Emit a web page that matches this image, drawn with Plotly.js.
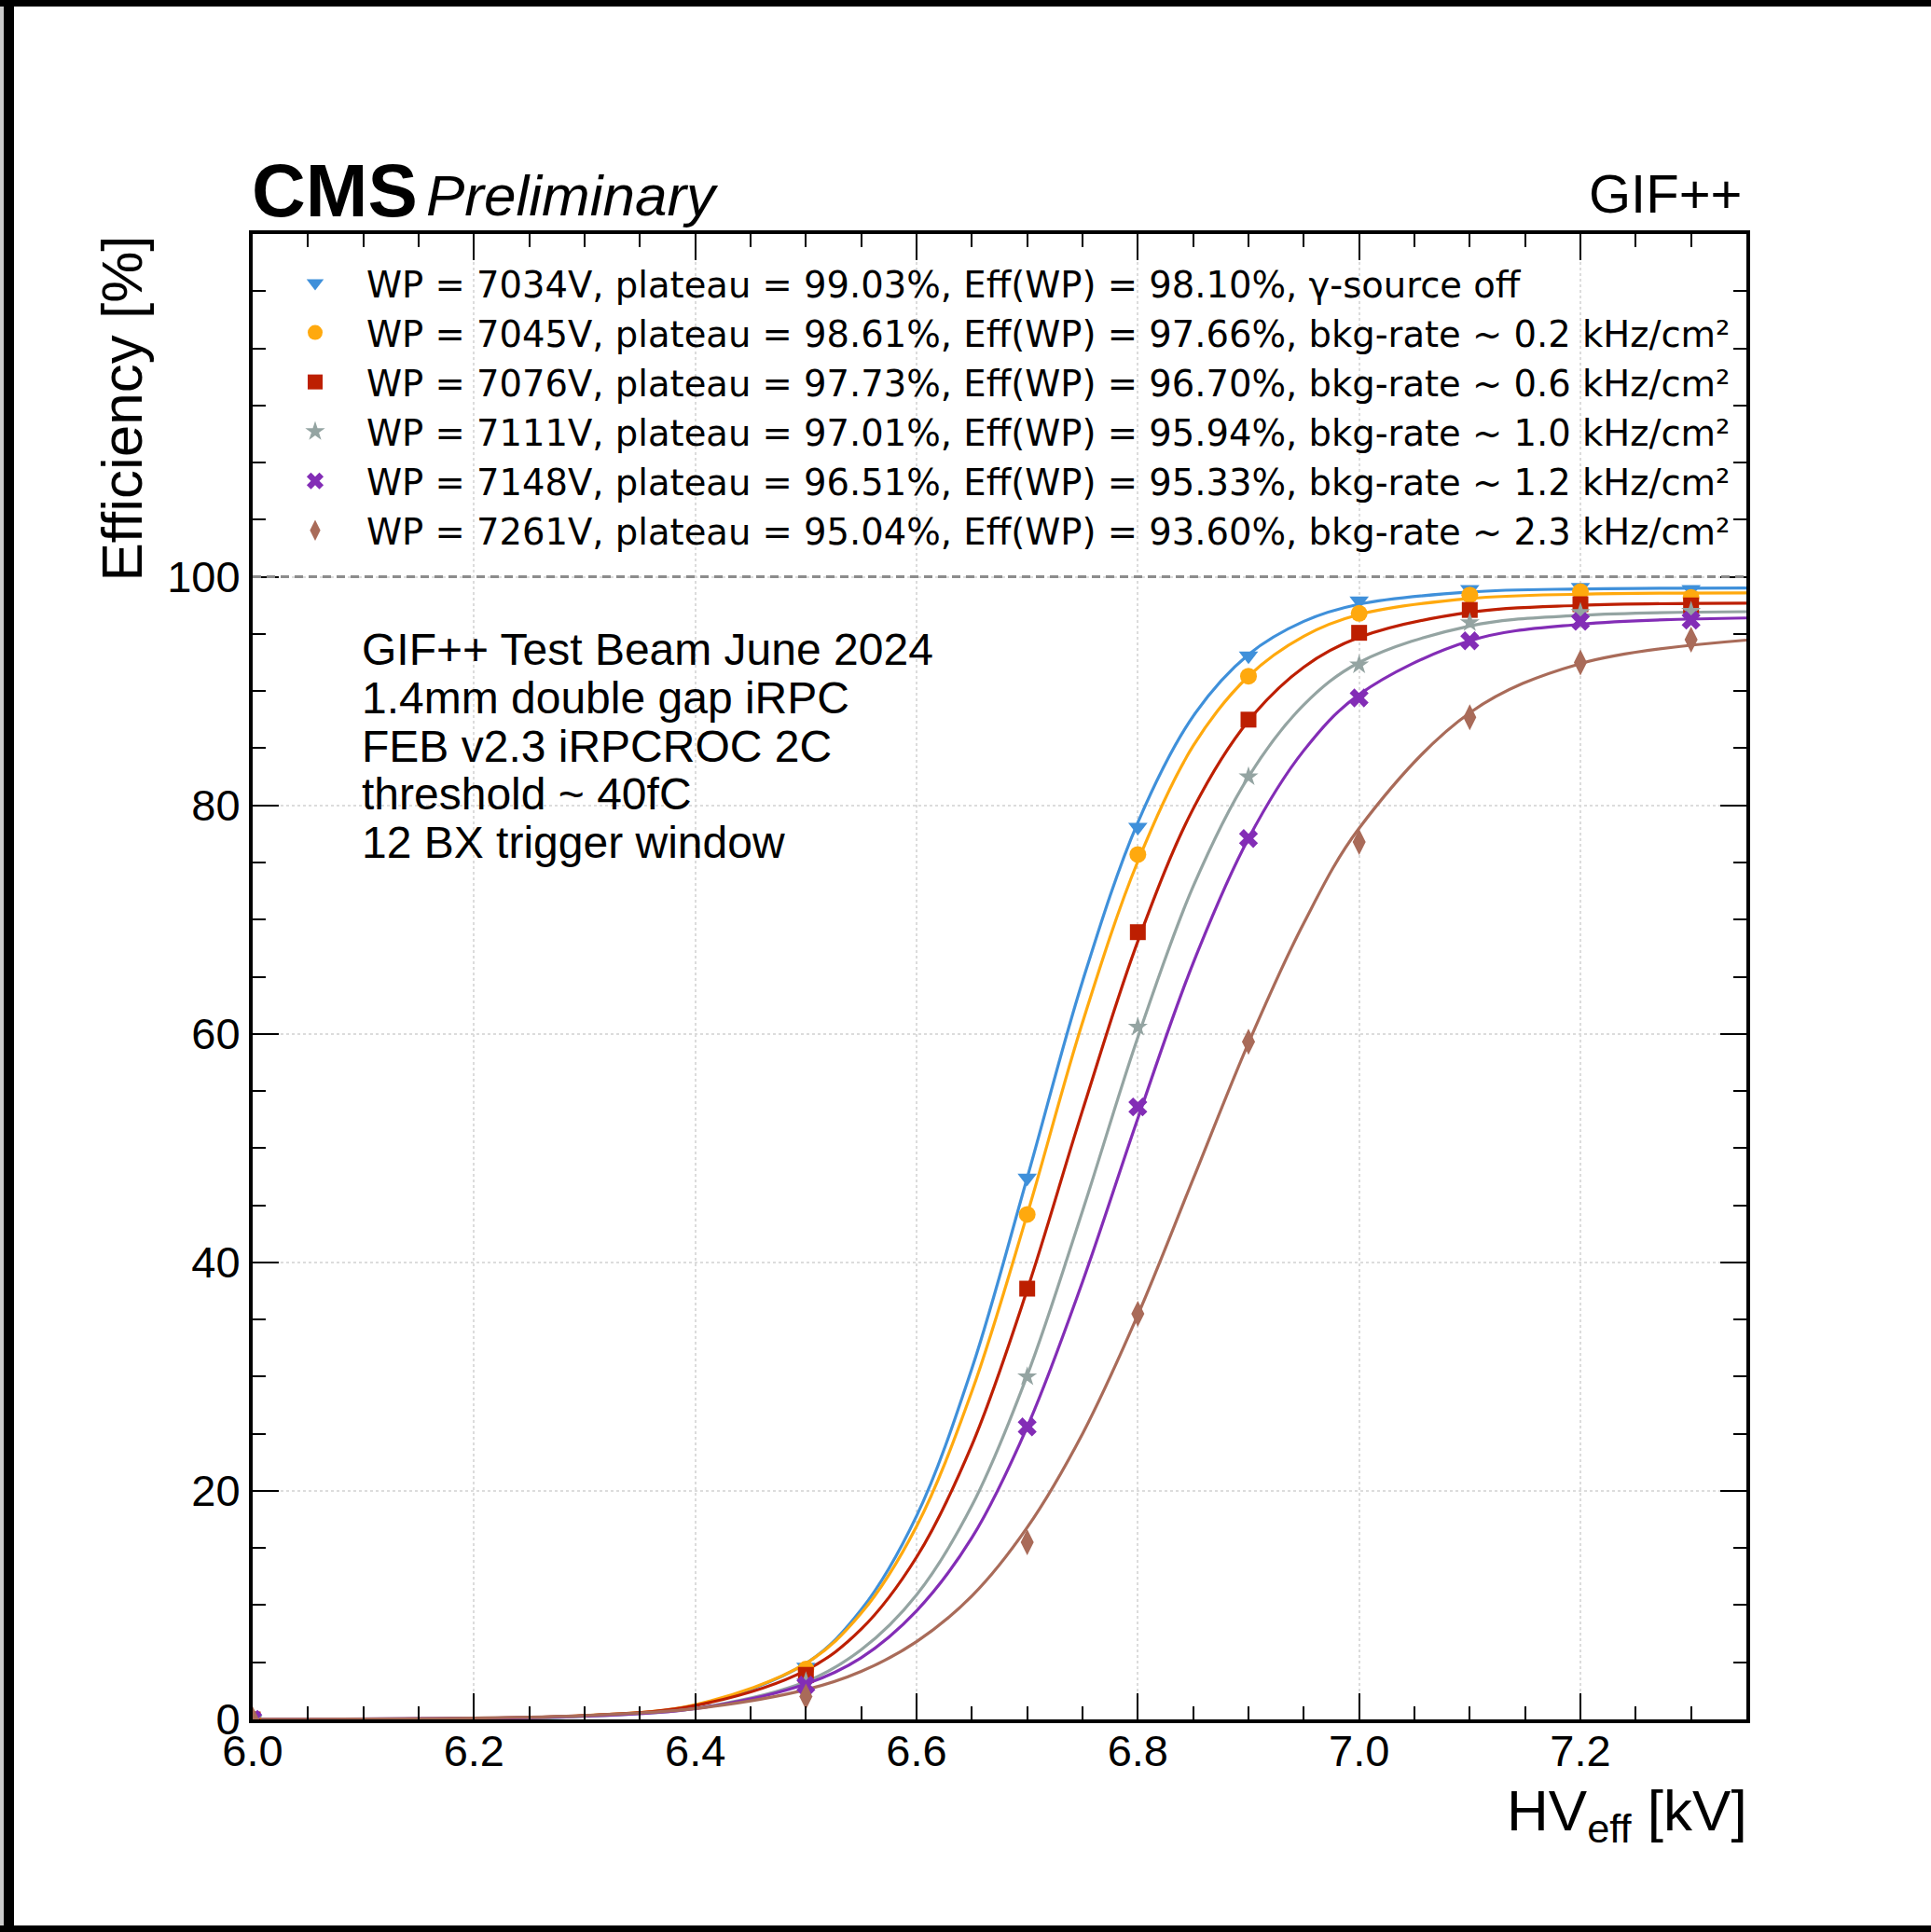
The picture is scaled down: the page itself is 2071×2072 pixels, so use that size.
<!DOCTYPE html>
<html><head><meta charset="utf-8">
<script src="https://cdn.plot.ly/plotly-3.0.1.min.js"></script>
<style>html,body{margin:0;padding:0;background:#fff;overflow:hidden;width:2071px;height:2072px;}#chart{width:2071px;height:2072px;}</style>
</head><body><div id="chart"></div>
<script>
// ---- data ----
const hv = [6.0, 6.5, 6.7, 6.8, 6.9, 7.0, 7.1, 7.2, 7.3];
const effOff = [0, 4.6, 47.4, 78.1, 93.1, 97.9, 98.9, 99.1, 98.9];
const eff02  = [0, 4.4, 44.2, 75.7, 91.3, 96.8, 98.4, 98.7, 98.2];
const eff06  = [0, 3.9, 37.7, 68.9, 87.5, 95.1, 97.1, 97.6, 97.5];
const eff10  = [0, 3.3, 30.0, 60.6, 82.5, 92.3, 96.0, 96.9, 97.0];
const eff12  = [0, 3.0, 25.6, 53.6, 77.1, 89.4, 94.4, 96.1, 96.2];
const eff23  = [0, 2.0, 15.5, 35.5, 59.3, 76.8, 87.7, 92.5, 94.5];

// fitted curves
const hvFit  = [6.0, 6.2, 6.3, 6.4, 6.5, 6.55, 6.6, 6.65, 6.7, 6.75, 6.8, 6.85, 6.9, 6.95, 7.0, 7.1, 7.2, 7.35];
const fitOff = [0.0, 0.07, 0.30, 1.23, 4.9, 9.6, 17.8, 30.7, 47.4, 64.6, 78.5, 87.8, 93.2, 96.1, 97.6, 98.67, 98.94, 99.02];
const fit02  = [0.0, 0.08, 0.33, 1.29, 4.9, 9.3, 16.9, 28.7, 44.2, 61.0, 75.1, 85.2, 91.3, 94.8, 96.7, 98.1, 98.48, 98.59];
const fit06  = [0.0, 0.09, 0.33, 1.21, 4.3, 7.9, 14.2, 24.0, 37.6, 53.3, 68.1, 79.7, 87.4, 92.1, 94.7, 96.9, 97.5, 97.7];
const fit10  = [0.0, 0.08, 0.27, 0.96, 3.3, 6.1, 10.9, 18.7, 30.1, 44.5, 59.7, 72.9, 82.5, 88.8, 92.5, 95.7, 96.63, 96.95];
const fit12  = [0.0, 0.09, 0.29, 0.94, 3.1, 5.4, 9.5, 15.9, 25.6, 38.3, 52.6, 66.2, 77.1, 84.8, 89.7, 94.4, 95.85, 96.4];
const fit23  = [0.02, 0.12, 0.34, 0.95, 2.6, 4.2, 6.8, 10.8, 16.8, 25.0, 35.4, 47.3, 59.2, 69.7, 78.0, 88.1, 92.4, 94.46];

const labels = [
  "WP = 7034V, plateau = 99.03%, Eff(WP) = 98.10%, γ-source off",
  "WP = 7045V, plateau = 98.61%, Eff(WP) = 97.66%, bkg-rate ~ 0.2 kHz/cm²",
  "WP = 7076V, plateau = 97.73%, Eff(WP) = 96.70%, bkg-rate ~ 0.6 kHz/cm²",
  "WP = 7111V, plateau = 97.01%, Eff(WP) = 95.94%, bkg-rate ~ 1.0 kHz/cm²",
  "WP = 7148V, plateau = 96.51%, Eff(WP) = 95.33%, bkg-rate ~ 1.2 kHz/cm²",
  "WP = 7261V, plateau = 95.04%, Eff(WP) = 93.60%, bkg-rate ~ 2.3 kHz/cm²"
];
const infoLines = ["GIF++ Test Beam June 2024", "1.4mm double gap iRPC", "FEB v2.3 iRPCROC 2C", "threshold ~ 40fC", "12 BX trigger window"];
const yTickVals = [0, 20, 40, 60, 80, 100];
const xTickStep = 0.2;

// ---- styles ----
const colors  = ["#3f90da", "#ffa90e", "#bd1f01", "#94a4a2", "#832db6", "#a96b59"];
const symbols = ["triangle-down", "circle", "square", "star", "x", "diamond-tall"];
const sizes   = [18, 18, 17, 16, 18, 20];
const effs = [effOff, eff02, eff06, eff10, eff12, eff23];
const fits = [fitOff, fit02, fit06, fit10, fit12, fit23];

const W = 2071, H = 2072, L = 271, R = 198, T = 251, B = 228;
const PW = W - L - R, PH = H - T - B;
const px = p => (p - L) / PW;
const py = p => (H - B - p) / PH;

const traces = [];
fits.forEach((f, i) => {
  traces.push({x: hvFit, y: f, type: 'scatter', mode: 'lines',
    line: {color: colors[i], width: 3.2, shape: 'spline', smoothing: 1},
    showlegend: false, hoverinfo: 'skip'});
});
effs.forEach((e, i) => {
  traces.push({x: hv, y: e, type: 'scatter', mode: 'markers', name: labels[i],
    marker: {color: colors[i], symbol: symbols[i], size: sizes[i], line: {width: 0}}});
});

const minorY = [];
for (let v = 0; v <= 125; v += 5) if (v % 20 !== 0 || v > 100) minorY.push(v);

const font = 'Liberation Sans, Arial, sans-serif';
const annotations = [
  {text: '<b>CMS</b>', x: px(268), y: 1.0, xref: 'paper', yref: 'paper', xanchor: 'left', yanchor: 'bottom',
   showarrow: false, font: {family: font, size: 80, color: '#000'}},
  {text: '<i>Preliminary</i>', x: px(455), y: py(246), xref: 'paper', yref: 'paper', xanchor: 'left', yanchor: 'bottom',
   showarrow: false, font: {family: font, size: 62, color: '#000'}},
  {text: 'GIF++', x: px(1870), y: py(242), xref: 'paper', yref: 'paper', xanchor: 'right', yanchor: 'bottom',
   showarrow: false, font: {family: font, size: 58, color: '#000'}},
  {text: 'Efficiency [%]', textangle: -90, x: px(130), y: 1.0, xref: 'paper', yref: 'paper', xanchor: 'center', yanchor: 'top',
   showarrow: false, font: {family: font, size: 62, color: '#000'}},
  {text: 'HV<sub>eff</sub> [kV]', x: px(1876), y: py(1946), xref: 'paper', yref: 'paper', xanchor: 'right', yanchor: 'middle',
   showarrow: false, font: {family: font, size: 62, color: '#000'}}
];
const lineCenters = [696.4, 748.7, 800.4, 851.7, 903.7];
infoLines.forEach((t, i) => annotations.push({text: t, x: px(386), y: py(lineCenters[i]), xref: 'paper', yref: 'paper',
  xanchor: 'left', yanchor: 'middle', showarrow: false, font: {family: font, size: 48, color: '#000'}}));

const shapes = [
  {type: 'line', xref: 'paper', yref: 'y', x0: 0, x1: 1, y0: 100, y1: 100,
   line: {color: '#8c8c8c', width: 3, dash: '9px,6px'}},
  {type: 'rect', xref: 'paper', yref: 'paper', x0: px(2040), x1: px(W + 5), y0: py(H - 8), y1: py(8), fillcolor: '#fff', line: {width: 0}, layer: 'above'},
  {type: 'rect', xref: 'paper', yref: 'paper', x0: px(0), x1: px(4), y0: py(H), y1: py(0), fillcolor: '#cccccc', line: {width: 0}, layer: 'above'},
  {type: 'rect', xref: 'paper', yref: 'paper', x0: px(4), x1: px(15), y0: py(H), y1: py(0), fillcolor: '#000', line: {width: 0}, layer: 'above'},
  {type: 'rect', xref: 'paper', yref: 'paper', x0: px(0), x1: px(W), y0: py(7), y1: py(0), fillcolor: '#000', line: {width: 0}, layer: 'above'},
  {type: 'rect', xref: 'paper', yref: 'paper', x0: px(0), x1: px(W), y0: py(H), y1: py(2065), fillcolor: '#000', line: {width: 0}, layer: 'above'}
];

const axisCommon = {
  ticks: 'inside', ticklen: 28, tickwidth: 2, tickcolor: '#000',
  showline: true, linewidth: 4, linecolor: '#000', mirror: 'allticks',
  showgrid: true, gridcolor: '#dcdcdc', griddash: 'dot', gridwidth: 2,
  zeroline: false, tickfont: {family: font, size: 47, color: '#000'}
};

const layout = {
  width: W, height: H,
  margin: {l: L, r: R, t: T, b: B, pad: 0},
  paper_bgcolor: '#fff', plot_bgcolor: '#fff',
  showlegend: true,
  legend: {x: px(283), y: py(272), xanchor: 'left', yanchor: 'top', bgcolor: 'rgba(0,0,0,0)',
    font: {family: 'DejaVu Sans, sans-serif', size: 38.5, color: '#000'}, itemwidth: 100, borderwidth: 0},
  xaxis: Object.assign({}, axisCommon, {range: [6.0, 7.35], tick0: 6.0, dtick: xTickStep, tickformat: '.1f',
    ticklabelstandoff: -10,
    minor: {dtick: 0.05, tick0: 6.0, ticks: 'inside', ticklen: 14, tickwidth: 2, tickcolor: '#000', showgrid: false}}),
  yaxis: Object.assign({}, axisCommon, {range: [0, 130], tickmode: 'array', tickvals: yTickVals,
    minor: {tickmode: 'array', tickvals: minorY, ticks: 'inside', ticklen: 14, tickwidth: 2, tickcolor: '#000', showgrid: false}}),
  annotations: annotations,
  shapes: shapes
};

Plotly.newPlot('chart', traces, layout, {displayModeBar: false, staticPlot: true});
</script></body></html>
